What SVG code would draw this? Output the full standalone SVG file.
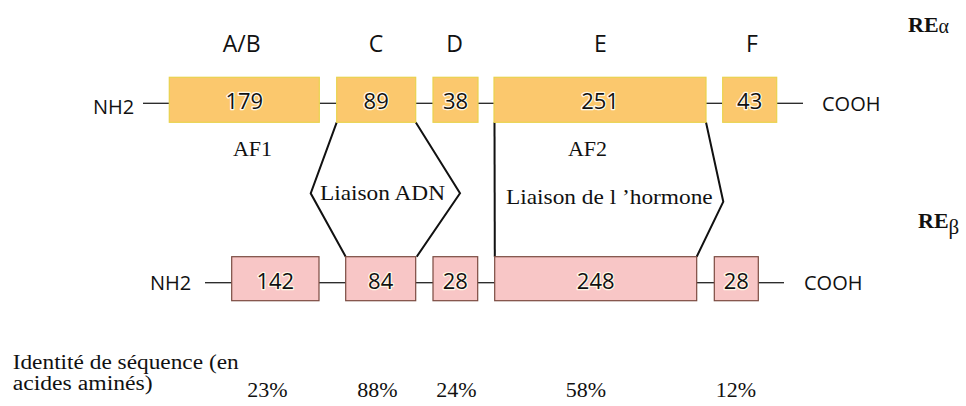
<svg xmlns="http://www.w3.org/2000/svg" width="966" height="406" viewBox="0 0 966 406">
<style>
.bg{fill:#fff}
.ba{fill:#FBC86D;stroke:#E9D24E;stroke-width:1.2}
.bb{fill:#F8C6C6;stroke:#7A4A40;stroke-width:1.2}
.num{font-family:"Open Sans","Noto Sans",sans-serif;font-size:22px;font-weight:500;fill:#111;text-anchor:middle;stroke:#fff8e8;stroke-width:2.5;paint-order:stroke;stroke-linejoin:round}
.sans{font-family:"Open Sans","Noto Sans",sans-serif;font-size:20px;fill:#111}
.hdr{font-family:"Open Sans","Noto Sans",sans-serif;font-size:23px;fill:#111;text-anchor:middle}
.ser{font-family:"Liberation Serif","Times New Roman",serif;font-size:22px;fill:#111}
.idt{font-size:20px}
.mid{text-anchor:middle}
.ln{stroke:#222;stroke-width:1.3;fill:none}
.hx{stroke:#111;stroke-width:2;fill:none;stroke-linejoin:miter}
</style>
<rect class="bg" x="0" y="0" width="966" height="406"/>

<g id="headers">
<text class="hdr" x="241.7" y="51.7">A/B</text>
<text class="hdr" x="376" y="51.7">C</text>
<text class="hdr" x="454.5" y="51.7">D</text>
<text class="hdr" x="600.3" y="51.7">E</text>
<text class="hdr" x="752" y="51.7">F</text>
</g>

<g id="re-labels">
<text class="ser" x="908" y="31.7" font-weight="bold" font-size="23">RE<tspan font-weight="normal" font-size="20" dy="1">α</tspan></text>
<text class="ser" x="918" y="227.7" font-weight="bold" font-size="23">RE<tspan font-weight="normal" font-size="21" dy="6">β</tspan></text>
</g>

<g id="connectors">
<line class="ln" x1="143" y1="103.3" x2="169.3" y2="103.3"/>
<line class="ln" x1="319.3" y1="103.3" x2="336.7" y2="103.3"/>
<line class="ln" x1="415.7" y1="103.3" x2="433" y2="103.3"/>
<line class="ln" x1="478" y1="103.3" x2="494" y2="103.3"/>
<line class="ln" x1="706" y1="103.3" x2="722.7" y2="103.3"/>
<line class="ln" x1="776.7" y1="103.3" x2="803" y2="103.3"/>
<line class="ln" x1="205" y1="282.7" x2="231.7" y2="282.7"/>
<line class="ln" x1="319" y1="282.7" x2="345.7" y2="282.7"/>
<line class="ln" x1="415.7" y1="282.7" x2="433" y2="282.7"/>
<line class="ln" x1="477.7" y1="282.7" x2="494.7" y2="282.7"/>
<line class="ln" x1="696.7" y1="282.7" x2="714.3" y2="282.7"/>
<line class="ln" x1="758.3" y1="282.7" x2="784" y2="282.7"/>
<polyline class="hx" points="336.7,122.3 310.7,193.3 345.7,256.7"/>
<polyline class="hx" points="415.7,122.3 460,193.3 416.7,256.7"/>
<line class="hx" x1="494.5" y1="122.3" x2="494.8" y2="256.7"/>
<polyline class="hx" points="706,122.3 723.3,201.7 696.7,256.7"/>
</g>

<g id="ends">
<text class="sans" x="93" y="114">NH2</text>
<text class="sans" x="822" y="110.7">COOH</text>
<text class="sans" x="150" y="290">NH2</text>
<text class="sans" x="804" y="290">COOH</text>
</g>

<g id="alpha-AB"><rect class="ba" x="169.3" y="77.3" width="150" height="45"/><text class="num" x="244.3" y="109">179</text></g>
<g id="alpha-C"><rect class="ba" x="336.7" y="77.3" width="79" height="45"/><text class="num" x="376.2" y="109">89</text></g>
<g id="alpha-D"><rect class="ba" x="433" y="77.3" width="45" height="45"/><text class="num" x="455.5" y="109">38</text></g>
<g id="alpha-E"><rect class="ba" x="494" y="77.3" width="212" height="45"/><text class="num" x="600" y="109">251</text></g>
<g id="alpha-F"><rect class="ba" x="722.7" y="77.3" width="54" height="45"/><text class="num" x="749.7" y="109">43</text></g>

<g id="beta-AB"><rect class="bb" x="231.7" y="256.7" width="87.3" height="44"/><text class="num" x="275.3" y="289">142</text></g>
<g id="beta-C"><rect class="bb" x="345.7" y="256.7" width="70" height="44"/><text class="num" x="380.7" y="289">84</text></g>
<g id="beta-D"><rect class="bb" x="433" y="256.7" width="44.7" height="44"/><text class="num" x="455.3" y="289">28</text></g>
<g id="beta-E"><rect class="bb" x="494.7" y="256.7" width="202" height="44"/><text class="num" x="595.7" y="289">248</text></g>
<g id="beta-F"><rect class="bb" x="714.3" y="256.7" width="44" height="44"/><text class="num" x="736.3" y="289">28</text></g>

<g id="annotations">
<text class="ser mid" x="252.5" y="155.7">AF1</text>
<text class="ser mid" x="587.5" y="155.7">AF2</text>
<text class="ser mid" x="382.5" y="200" textLength="125" lengthAdjust="spacingAndGlyphs">Liaison ADN</text>
<text class="ser" x="506" y="204" textLength="206.7" lengthAdjust="spacingAndGlyphs">Liaison de l ’hormone</text>
</g>

<g id="identity">
<text class="ser idt" x="12.7" y="368.5" textLength="226" lengthAdjust="spacingAndGlyphs">Identité de séquence (en</text>
<text class="ser idt" x="12.7" y="389.5" textLength="140" lengthAdjust="spacingAndGlyphs">acides aminés)</text>
<text class="ser mid" x="267.3" y="397.3">23%</text>
<text class="ser mid" x="377.5" y="397.3">88%</text>
<text class="ser mid" x="456.3" y="397.3">24%</text>
<text class="ser mid" x="585.8" y="397.3">58%</text>
<text class="ser mid" x="735.8" y="397.3">12%</text>
</g>
</svg>
